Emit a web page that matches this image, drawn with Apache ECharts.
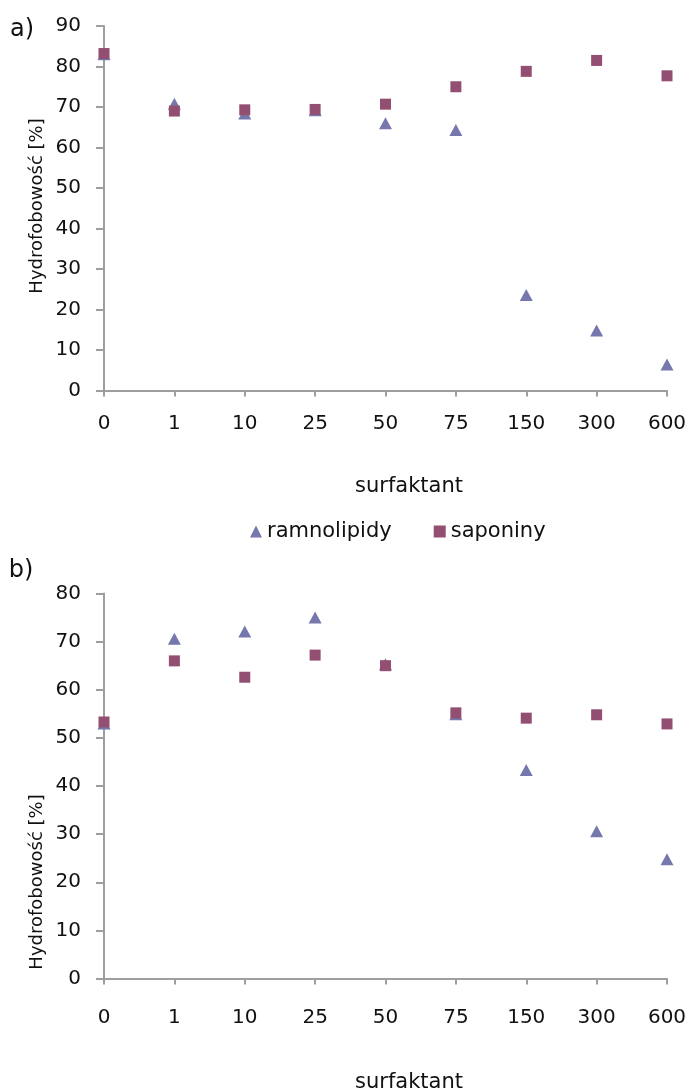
<!DOCTYPE html>
<html>
<head>
<meta charset="utf-8">
<style>
  html, body { margin: 0; padding: 0; background: #fff; }
  #chart { width: 696px; height: 1092px; }
</style>
<script src="https://cdn.jsdelivr.net/npm/echarts@6/dist/echarts.min.js"></script>
</head>
<body>
<div id="chart"></div>
<script>
// Surfactant concentrations on the x axis
const categories = ['0', '1', '10', '25', '50', '75', '150', '300', '600'];

// Panel a) hydrophobicity [%]
const aRamnolipidy = [83.0, 70.8, 68.4, 69.2, 66.0, 64.3, 23.6, 14.8, 6.4];
const aSaponiny    = [83.2, 69.0, 69.3, 69.4, 70.7, 75.0, 78.8, 81.5, 77.7];

// Panel b) hydrophobicity [%]
const bRamnolipidy = [53.0, 70.6, 72.1, 75.0, 65.3, 54.9, 43.3, 30.6, 24.8];
const bSaponiny    = [53.3, 66.0, 62.6, 67.2, 65.0, 55.2, 54.1, 54.8, 52.9];

const seriesNames = ['ramnolipidy', 'saponiny'];
const yTitle = 'Hydrofobowość [%]';
const xTitle = 'surfaktant';

const COL_TRI = '#7677ac';
const COL_SQ = '#934f72';
const AXIS_COL = '#9e9e9e';
const FONT = 'DejaVu Sans';

function xAxisFor(gridIndex, labelMargin) {
  return {
    type: 'category',
    gridIndex: gridIndex,
    data: categories,
    boundaryGap: false,
    axisLine: { lineStyle: { color: AXIS_COL, width: 2 } },
    axisTick: { length: 6, lineStyle: { color: AXIS_COL, width: 2 } },
    axisLabel: { color: '#111', fontFamily: FONT, fontSize: 20, margin: labelMargin },
    splitLine: { show: false }
  };
}

function yAxisFor(gridIndex, max) {
  return {
    type: 'value',
    gridIndex: gridIndex,
    min: 0,
    max: max,
    interval: 10,
    axisLine: { show: true, lineStyle: { color: AXIS_COL, width: 2 } },
    axisTick: { show: true, length: 8, lineStyle: { color: AXIS_COL, width: 2 } },
    axisLabel: { color: '#111', fontFamily: FONT, fontSize: 20, margin: 23 },
    splitLine: { show: false }
  };
}

function scatter(name, data, idx, shape, color, size) {
  return {
    name: name,
    type: 'scatter',
    xAxisIndex: idx,
    yAxisIndex: idx,
    data: data,
    symbol: shape,
    symbolSize: size,
    itemStyle: { color: color, opacity: 1 },
    emphasis: { disabled: true },
    z: shape === 'rect' ? 3 : 2
  };
}

function label(text, x, y, size, rotate) {
  return {
    type: 'text',
    x: x,
    y: y,
    rotation: rotate ? Math.PI / 2 : 0,
    style: {
      text: text,
      fill: '#111',
      font: size + 'px "' + FONT + '"',
      align: 'center',
      verticalAlign: 'middle'
    }
  };
}

const chart = echarts.init(document.getElementById('chart'), null, { renderer: 'canvas' });

chart.setOption({
  animation: false,
  backgroundColor: '#ffffff',
  grid: [
    { left: 104, right: 29, top: 26, height: 364.5 },
    { left: 104, right: 29, top: 593.5, height: 385 }
  ],
  xAxis: [xAxisFor(0, 23), xAxisFor(1, 29)],
  yAxis: [yAxisFor(0, 90), yAxisFor(1, 80)],
  legend: {
    left: 245,
    top: 516,
    itemWidth: 12,
    itemHeight: 12,
    itemGap: 42,
    textStyle: { color: '#111', fontFamily: FONT, fontSize: 21 },
    data: [
      { name: seriesNames[0], icon: 'triangle' },
      { name: seriesNames[1], icon: 'rect' }
    ]
  },
  graphic: [
    label('a)', 22, 30, 24, false),
    label('b)', 21, 571, 24, false),
    label(yTitle, 37, 206, 18, true),
    label(yTitle, 37, 882, 18, true),
    label(xTitle, 409, 487, 21, false),
    label(xTitle, 409, 1083, 21, false)
  ],
  series: [
    scatter(seriesNames[0], aRamnolipidy, 0, 'triangle', COL_TRI, [13, 12]),
    scatter(seriesNames[1], aSaponiny, 0, 'rect', COL_SQ, 11),
    scatter(seriesNames[0], bRamnolipidy, 1, 'triangle', COL_TRI, [13, 12]),
    scatter(seriesNames[1], bSaponiny, 1, 'rect', COL_SQ, 11)
  ]
});
</script>
</body>
</html>
